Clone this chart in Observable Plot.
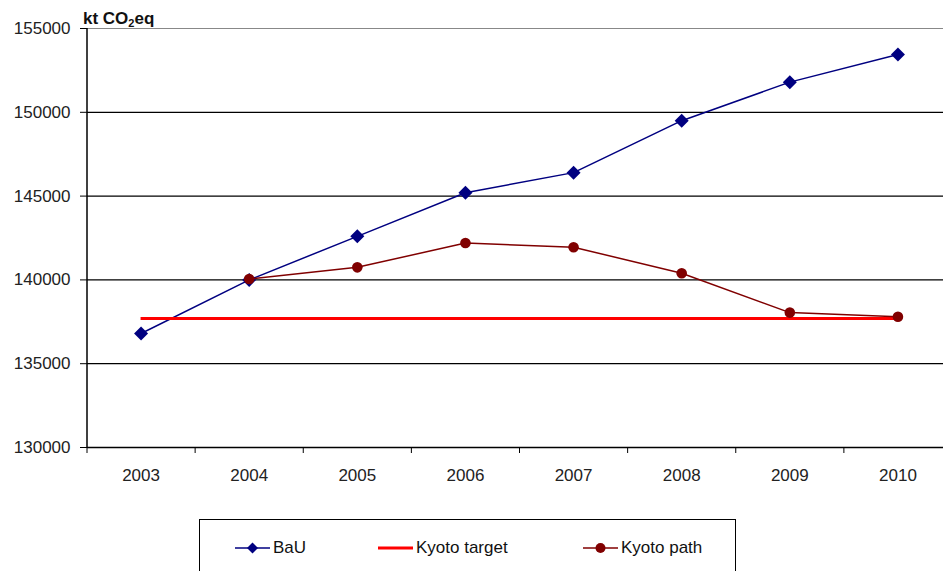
<!DOCTYPE html>
<html>
<head>
<meta charset="utf-8">
<script src="https://cdn.jsdelivr.net/npm/d3@7"></script>
<script src="https://cdn.jsdelivr.net/npm/@observablehq/plot@0.6"></script>
<style>
  html, body { margin: 0; padding: 0; background: #fff; }
  body { width: 943px; height: 571px; overflow: hidden; position: relative;
         font-family: "Liberation Sans", Arial, sans-serif; color: #111; }
  #unit { position: absolute; left: 83px; top: 10px; font-size: 17px; line-height: 17px;
          font-weight: bold; white-space: nowrap; }
  #unit sub { font-size: 11px; vertical-align: -3px; line-height: 0; }
  #legend { position: absolute; left: 199px; top: 519px; width: 537px; height: 90px;
            border: 1.5px solid #000; box-sizing: border-box; background: #fff; }
  .item { position: absolute; top: 18px; display: flex; align-items: center;
          font-size: 17px; line-height: 20px; white-space: nowrap; }
  .item svg { display: block; margin-right: 3px; }
</style>
</head>
<body>
<div id="chart"></div>
<div id="unit">kt CO<sub>2</sub>eq</div>
<div id="legend"></div>
<script>
// Greenhouse gas emissions, business as usual vs. the Kyoto reduction path
const years = [2003, 2004, 2005, 2006, 2007, 2008, 2009, 2010];
const bau = [136800, 140000, 142600, 145200, 146400, 149500, 151800, 153450];
const kyotoPath = [null, 140050, 140750, 142200, 141950, 140400, 138050, 137800];
const kyotoTarget = 137700;
const yTicks = [130000, 135000, 140000, 145000, 150000, 155000];

const colors = { bau: "#000080", target: "#ff0000", path: "#800000" };

const bauData = years.map((year, i) => ({ year, value: bau[i] }));
const pathData = years.map((year, i) => ({ year, value: kyotoPath[i] })).filter(d => d.value != null);
// category boundaries for the x-axis tick marks
const boundaries = years.map(y => y - 0.5).concat([years[years.length - 1] + 0.5]);

const chart = Plot.plot({
  width: 943,
  height: 510,
  marginLeft: 87,
  marginRight: 0,
  marginTop: 28,
  marginBottom: 63,
  style: { fontFamily: "'Liberation Sans', Arial, sans-serif", fontSize: "17px", color: "#000", background: "transparent" },
  x: { domain: [2002.5, 2010.5], range: [86.5, 951.5] },
  y: { domain: [130000, 155000] },
  marks: [
    Plot.ruleY(yTicks.slice(1, -1), { stroke: "#000", strokeWidth: 1.2 }),
    Plot.ruleY([155000], { stroke: "#888", strokeWidth: 1.2 }),
    Plot.ruleY([130000], { stroke: "#000", strokeWidth: 1.5 }),
    Plot.ruleX([2002.5], { stroke: "#000", strokeWidth: 1.5 }),
    Plot.axisY({ ticks: yTicks, tickSize: 7, tickPadding: 10, tickFormat: d => String(d), fill: "#222", label: null }),
    Plot.axisX({ ticks: boundaries, tickSize: 6, tickFormat: () => "", label: null }),
    Plot.axisX({ ticks: years, tickSize: 0, tickPadding: 21, tickFormat: d => String(d), fill: "#222", label: null }),
    Plot.line(bauData, { x: "year", y: "value", stroke: colors.bau, strokeWidth: 1.5 }),
    Plot.dot(bauData, { x: "year", y: "value", symbol: "diamond2", r: 6.3, fill: colors.bau, stroke: "none" }),
    Plot.ruleY([kyotoTarget], { x1: years[0], x2: years[years.length - 1], stroke: colors.target, strokeWidth: 3 }),
    Plot.line(pathData, { x: "year", y: "value", stroke: colors.path, strokeWidth: 1.5 }),
    Plot.dot(pathData, { x: "year", y: "value", symbol: "circle", r: 5.3, fill: colors.path, stroke: "none" })
  ]
});
document.getElementById("chart").appendChild(chart);

// legend
const legendItems = [
  { label: "BaU", color: colors.bau, marker: "diamond", left: 35, width: 1.5 },
  { label: "Kyoto target", color: colors.target, marker: null, left: 178, width: 3 },
  { label: "Kyoto path", color: colors.path, marker: "circle", left: 383, width: 1.5 }
];
const legend = document.getElementById("legend");
for (const it of legendItems) {
  const div = document.createElement("div");
  div.className = "item";
  div.style.left = it.left + "px";
  let marker = "";
  if (it.marker === "diamond") marker = `<path d="M17.5,1.5 L23,7 L17.5,12.5 L12,7 Z" fill="${it.color}"/>`;
  if (it.marker === "circle") marker = `<circle cx="17.5" cy="7" r="5" fill="${it.color}"/>`;
  div.innerHTML = `<svg width="35" height="14"><line x1="0" x2="35" y1="7" y2="7" stroke="${it.color}" stroke-width="${it.width}"/>${marker}</svg><span>${it.label}</span>`;
  legend.appendChild(div);
}
</script>
</body>
</html>
